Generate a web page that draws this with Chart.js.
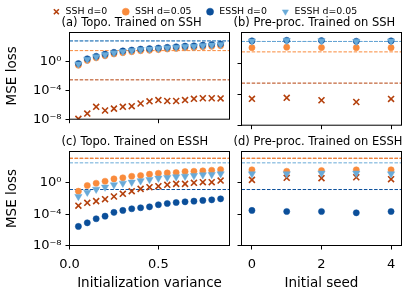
<!DOCTYPE html>
<html><head><meta charset="utf-8">
<script src="https://cdn.jsdelivr.net/npm/chart.js@4.4.1/dist/chart.umd.min.js"></script>
<style>
html,body{margin:0;padding:0;background:#fff;}
#wrap{position:relative;width:409px;height:300px;overflow:hidden;background:#fff;}
canvas{position:absolute;left:0;}
</style></head><body>
<div id="wrap">
<canvas id="cA" style="top:0px" width="409" height="131"></canvas>
<canvas id="cB" style="top:0px" width="409" height="131"></canvas>
<canvas id="cC" style="top:119px" width="409" height="175"></canvas>
<canvas id="cD" style="top:119px" width="409" height="175"></canvas>
<canvas id="cL" style="top:-7px" width="409" height="100"></canvas>
</div>
<script>
// ---------- data ----------
const variance = [0.05,0.10,0.15,0.20,0.25,0.30,0.35,0.40,0.45,0.50,0.55,0.60,0.65,0.70,0.75,0.80,0.85];
const seeds = [0,1,2,3,4];
const seriesLabels = ['SSH d=0','SSH d=0.05','ESSH d=0','ESSH d=0.05'];

// (a) Topo. trained on SSH
const topoSSH_sshD0   = [1.1e-8,6.0e-8,5.2e-7,1.6e-7,2.9e-7,5.2e-7,6.3e-7,1.5e-6,3.0e-6,4.5e-6,3.3e-6,3.3e-6,4.5e-6,6.6e-6,7.9e-6,7.9e-6,7.4e-6];
const topoSSH_sshD005 = [0.30,1.38,3.1,6.0,10.7,16,22,30,35,43,52,63,78,85,105,126,151];
const topoSSH_esshD0  = [0.50,2.3,5.2,10,18,28,37,50,58,71,88,106,130,143,175,212,254];
const topoSSH_esshD005= [0.42,1.95,4.4,8.5,15,23,31,42,49,60,74,89,110,120,148,178,214];
// (b) Pre-proc. trained on SSH
const preSSH_sshD0    = [2.6e-5,3.5e-5,1.7e-5,1.0e-5,2.5e-5];
const preSSH_sshD005  = [110,125,112,108,110];
const preSSH_esshD0   = [820,980,900,740,820];
const preSSH_esshD005 = [776,933,851,692,776];
// (c) Topo. trained on ESSH
const topoESSH_sshD0   = [1.2e-3,2.8e-3,4.6e-3,8.1e-3,0.018,0.040,0.085,0.17,0.28,0.37,0.56,0.74,0.74,1.0,1.2,1.2,1.95];
const topoESSH_sshD005 = [0.085,0.46,0.89,1.6,3.2,4.4,6.9,8.5,12.6,16.6,18.6,20.4,27.5,30,34,40,49];
const topoESSH_esshD0  = [2.7e-6,7.9e-6,2.6e-5,5.6e-5,1.7e-4,3.0e-4,4.9e-4,6.6e-4,8.7e-4,1.6e-3,2.3e-3,3.1e-3,3.8e-3,4.6e-3,5.6e-3,6.8e-3,9.1e-3];
const topoESSH_esshD005= [0.018,0.063,0.15,0.28,0.56,0.89,1.2,1.8,2.6,3.9,4.8,5.8,6.9,8.5,10.5,11.5,14.1];
// (d) Pre-proc. trained on ESSH
const preESSH_sshD0    = [2.4,4.4,3.9,5.2,2.9];
const preESSH_sshD005  = [46,30,37,46,46];
const preESSH_esshD0   = [3.0e-4,2.2e-4,2.2e-4,1.5e-4,2.2e-4];
const preESSH_esshD005 = [14,14,17,17,14];

// dashed reference levels (SSH d=0, SSH d=0.05, ESSH d=0, ESSH d=0.05)
const baselineTrainedSSH  = [2.8e-3, 31, 690, 690];
const baselineTrainedESSH = [1350, 1350, 0.14, 355];

const yTickValues = [1e-8, 1e-4, 1];
const varianceTicks = [0, 0.5];
const seedTicks = [0, 2, 4];
const panelTitles = ['(a) Topo. Trained on SSH','(b) Pre-proc. Trained on SSH','(c) Topo. Trained on ESSH','(d) Pre-proc. Trained on ESSH'];

// ---------- styles ----------
const FONT = "'DejaVu Sans'";
const seriesStyle = [
  {color:'#b4400c', pointStyle:'crossRot', radius:4.2, borderWidth:1.6, rotation:0},
  {color:'#f98b3c', pointStyle:'circle',   radius:3.1, borderWidth:0.5, rotation:0},
  {color:'#0b4f9a', pointStyle:'circle',   radius:3.1, borderWidth:0.5, rotation:0},
  {color:'#69aad8', pointStyle:'triangle', radius:4.2, borderWidth:0.5, rotation:180}
];
const lineStyle = ['#b4400c','#f98b3c','#0b4f9a','#69aad8'];

Chart.defaults.font.family = FONT;
Chart.defaults.color = '#000';

const SUP = '⁰¹²³⁴⁵⁶⁷⁸⁹';
function sup(v){
  const e = Math.round(Math.log10(v));
  return '10' + String(e).replace('-', '⁻').replace(/\d/g, d => SUP[+d]);
}

const framePlugin = {
  id:'frame',
  afterDatasetsDraw(chart){
    const {ctx, chartArea:a} = chart;
    ctx.save();
    ctx.strokeStyle = '#000';
    ctx.lineWidth = 1;
    ctx.strokeRect(a.left, a.top, a.right - a.left, a.bottom - a.top);
    ctx.restore();
  }
};
// panel captions start a little left of the axes box
const titleShiftPlugin = {
  id:'titleShift',
  afterLayout(chart){
    const t = chart.titleBlock;
    if (t) { t.left = chart.chartArea.left - 8; t.right = t.left + 320; }
  }
};

function makePanel(id, xs, series, baseline, xRange, xTicks, xFmt, o){
  const datasets = [];
  baseline.forEach((v, k) => {
    datasets.push({
      label: 'ref ' + seriesLabels[k],
      data: [{x:xRange[0], y:v}, {x:xRange[1], y:v}],
      showLine: true, borderColor: lineStyle[k], borderWidth: 1,
      borderDash: [3.5, 1.6], pointRadius: 0, fill: false, order: 20 - k
    });
  });
  series.forEach((ys, k) => {
    const st = seriesStyle[k];
    datasets.push({
      label: seriesLabels[k],
      data: xs.map((x, i) => ({x, y: ys[i]})),
      showLine: false,
      pointStyle: st.pointStyle, pointRadius: st.radius, pointRotation: st.rotation,
      backgroundColor: st.color, borderColor: st.color, borderWidth: st.borderWidth,
      order: 4 - k
    });
  });
  return new Chart(document.getElementById(id), {
    type: 'scatter',
    data: { datasets },
    options: {
      responsive: false, animation: false, devicePixelRatio: 1, events: [],
      layout: { padding: { left: o.padLeft, right: o.padRight, top: 0, bottom: 0 } },
      plugins: {
        legend: { display: false }, tooltip: { enabled: false },
        title: { display: true, text: o.title, align: 'start', fullSize: false, color: '#000',
          font: { family: FONT, size: 11.5, weight: 'normal', lineHeight: 1.2 },
          padding: { top: 15.85, bottom: 2.85 } }
      },
      scales: {
        x: {
          type: 'linear', min: xRange[0], max: xRange[1],
          afterBuildTicks: s => { s.ticks = xTicks.map(v => ({ value: v })); },
          afterFit: s => { s.height = o.xHeight; },
          border: { display: false },
          grid: { display: true, drawOnChartArea: false, drawTicks: true, tickLength: 4, color: '#000', lineWidth: 1 },
          ticks: { display: o.showX, color: '#000', padding: 7, maxRotation: 0, autoSkip: false,
            font: { family: FONT, size: 13 }, callback: v => xFmt(v) },
          title: { display: !!o.xTitle, text: o.xTitle || '', color: '#000',
            font: { family: FONT, size: 13.5 }, padding: { top: 0, bottom: 2.4 } }
        },
        y: {
          type: 'logarithmic', min: 1e-8, max: 1e4,
          afterBuildTicks: s => { s.ticks = yTickValues.map(v => ({ value: v })); },
          afterFit: s => { s.width = o.yWidth; },
          border: { display: false },
          grid: { display: true, drawOnChartArea: false, drawTicks: true, tickLength: 4, color: '#000', lineWidth: 1 },
          ticks: { display: o.showY, color: '#000', padding: 4, autoSkip: false,
            font: { family: FONT, size: 13 }, callback: v => sup(v) },
          title: { display: o.showY, text: 'MSE loss', color: '#000',
            font: { family: FONT, size: 13.5 }, padding: { top: 4.4, bottom: 0 } }
        }
      }
    },
    plugins: [framePlugin, titleShiftPlugin]
  });
}

const fmtVar = v => v.toFixed(1);
const fmtSeed = v => String(v);

makePanel('cA', variance, [topoSSH_sshD0, topoSSH_sshD005, topoSSH_esshD0, topoSSH_esshD005],
  baselineTrainedSSH, [0, 0.9], varianceTicks, fmtVar,
  {padLeft: 0, padRight: 179.5, yWidth: 69.5, xHeight: 4.5, title: panelTitles[0], showX: false, showY: true});
makePanel('cB', seeds, [preSSH_sshD0, preSSH_sshD005, preSSH_esshD0, preSSH_esshD005],
  baselineTrainedSSH, [-0.3, 4.3], seedTicks, fmtSeed,
  {padLeft: 221, padRight: 7.5, yWidth: 20.5, xHeight: 4.5, title: panelTitles[1], showX: false, showY: false});
makePanel('cC', variance, [topoESSH_sshD0, topoESSH_sshD005, topoESSH_esshD0, topoESSH_esshD005],
  baselineTrainedESSH, [0, 0.9], varianceTicks, fmtVar,
  {padLeft: 0, padRight: 179.5, yWidth: 69.5, xHeight: 48.5, title: panelTitles[2], showX: true, showY: true, xTitle: 'Initialization variance'});
makePanel('cD', seeds, [preESSH_sshD0, preESSH_sshD005, preESSH_esshD0, preESSH_esshD005],
  baselineTrainedESSH, [-0.3, 4.3], seedTicks, fmtSeed,
  {padLeft: 221, padRight: 7.5, yWidth: 20.5, xHeight: 48.5, title: panelTitles[3], showX: true, showY: false, xTitle: 'Initial seed'});

// ---------- shared legend ----------
new Chart(document.getElementById('cL'), {
  type: 'scatter',
  data: { datasets: seriesLabels.map((lab, k) => ({
    label: lab, data: [],
    pointStyle: seriesStyle[k].pointStyle, pointRotation: seriesStyle[k].rotation,
    backgroundColor: seriesStyle[k].color, borderColor: seriesStyle[k].color,
    borderWidth: k === 0 ? 1.6 : 0.5
  })) },
  options: {
    responsive: false, animation: false, devicePixelRatio: 1, events: [],
    layout: { padding: 0 },
    plugins: {
      tooltip: { enabled: false },
      legend: { display: true, position: 'top', align: 'center',
        labels: { usePointStyle: true, boxWidth: 9, boxHeight: 5, padding: 14, color: '#000',
          font: { family: FONT, size: 9.4 } } }
    },
    scales: { x: { display: false }, y: { display: false } }
  }
});
</script>
</body></html>
